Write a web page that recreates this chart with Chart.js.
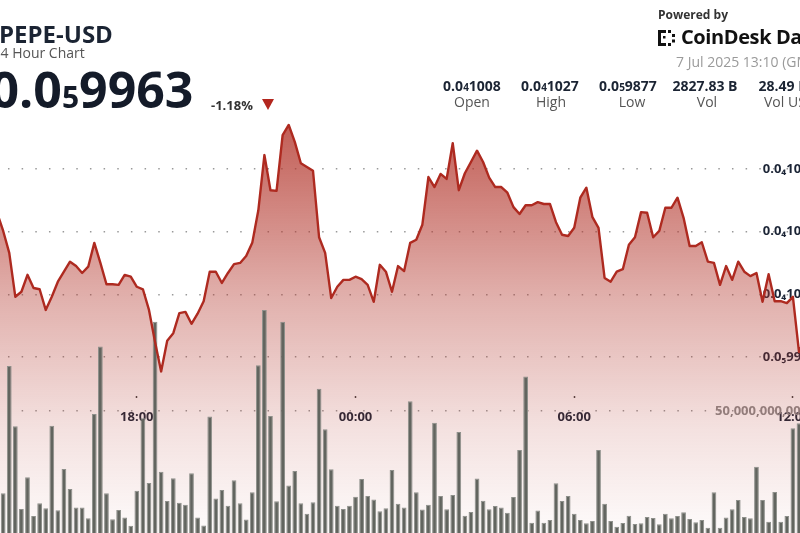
<!DOCTYPE html>
<html><head><meta charset="utf-8">
<script src="https://cdn.jsdelivr.net/npm/chart.js@4.4.1/dist/chart.umd.min.js"></script>
<style>
html,body{margin:0;padding:0;background:#fff;overflow:hidden;width:800px;height:533px;position:relative;font-family:"Open Sans","DejaVu Sans",sans-serif;}
.t{position:absolute;white-space:nowrap;line-height:1;}
.c{transform:translateX(-50%);}
#c{position:absolute;left:-60px;top:0;}
.val{font-size:14px;font-weight:700;color:#1b2433;top:78.6px;}
.lab{font-size:14px;color:#555;top:94.6px;}
.s{font-size:10px;}
</style></head><body>
<canvas id="c" width="900" height="533"></canvas>
<div class="t" style="left:-1px;top:21.7px;font-size:24px;font-weight:700;color:#1b2433;">PEPE-USD</div>
<div class="t" style="left:-7.5px;top:45.6px;font-size:14px;color:#555;">24 Hour Chart</div>
<div class="t" style="left:-9.5px;top:63.6px;font-size:50px;font-weight:700;color:#141b29;">0.0<span style="font-size:30px">5</span>9963</div>
<div class="t" style="left:211px;top:98.5px;font-size:13px;font-weight:700;color:#333;">-1.18%</div>
<div style="position:absolute;left:262px;top:98.5px;width:0;height:0;border-left:6.5px solid transparent;border-right:6.5px solid transparent;border-top:11px solid #b3261e;"></div>
<div class="t" style="left:658px;top:8.8px;font-size:12px;font-weight:700;color:#333;">Powered by</div>
<svg style="position:absolute;left:657px;top:28px" width="24" height="20" viewBox="0 0 24 20">
<g fill="#111"><rect x="1" y="2" width="3" height="16"/><rect x="1" y="2" width="8" height="3"/><rect x="1" y="15" width="8" height="3"/><rect x="11" y="2" width="3" height="3"/><rect x="11" y="15" width="3" height="3"/><rect x="6" y="8" width="2.5" height="2.5"/><rect x="15" y="6" width="3" height="3"/><rect x="15" y="11.5" width="3" height="3"/></g></svg>
<div class="t" style="left:681px;top:27.2px;font-size:20px;font-weight:700;color:#111;letter-spacing:-0.4px;">CoinDesk Data</div>
<div class="t" style="left:676px;top:54.6px;font-size:14px;color:#9a9a9a;">7 Jul 2025 13:10 (GMT)</div>
<div class="t c val" style="left:472px;">0.0<span class="s">4</span>1008</div>
<div class="t c lab" style="left:472px;">Open</div>
<div class="t c val" style="left:550px;">0.0<span class="s">4</span>1027</div>
<div class="t c lab" style="left:551px;">High</div>
<div class="t c val" style="left:628px;">0.0<span class="s">5</span>9877</div>
<div class="t c lab" style="left:632px;">Low</div>
<div class="t c val" style="left:705px;">2827.83 B</div>
<div class="t c lab" style="left:707px;">Vol</div>
<div class="t c val" style="left:785px;">28.49 M</div>
<div class="t c lab" style="left:790px;">Vol USD</div>
<script>
// 10-minute candles, minutes relative to 00:00 on 7 Jul 2025 (first = 13:20 on 6 Jul, last = 13:10)
const firstCandleMinute = -640;
const candleMinutes = [];
for (let i = 0; i < 144; i++) candleMinutes.push(firstCandleMinute + 10 * i);

// close price, in millionths of USD (10.08 => 0.00001008)
const priceE6 = [
10.080,10.100,10.090,10.120,10.110,10.130,
10.101,10.066,9.996,10.004,10.031,10.010,10.008,9.975,9.996,10.020,
10.036,10.052,10.045,10.034,10.044,10.082,10.050,10.016,10.016,10.015,
10.031,10.028,10.012,10.008,9.975,9.924,9.877,9.926,9.938,9.970,
9.972,9.953,9.969,9.989,10.036,10.036,10.018,10.034,10.048,10.050,
10.061,10.082,10.134,10.222,10.166,10.165,10.254,10.270,10.243,10.209,
10.203,10.197,10.091,10.066,9.994,10.012,10.023,10.023,10.028,10.024,
10.015,9.988,10.047,10.036,10.004,10.045,10.037,10.082,10.087,10.111,
10.187,10.171,10.192,10.184,10.241,10.166,10.193,10.211,10.229,10.211,
10.186,10.171,10.171,10.162,10.139,10.128,10.142,10.142,10.147,10.144,
10.144,10.115,10.095,10.093,10.106,10.154,10.170,10.123,10.106,10.026,
10.020,10.036,10.040,10.079,10.091,10.131,10.130,10.091,10.101,10.138,
10.138,10.154,10.122,10.077,10.077,10.083,10.052,10.050,10.015,10.045,
10.023,10.052,10.036,10.029,10.034,9.988,10.032,9.989,9.989,9.986,
9.996,9.908,9.930,9.948,9.941,9.958,9.950,9.963
];

// volume per candle, in billions of PEPE
const volumeB = [
18,25,12,30,15,19.4,
16.3,68.4,43.8,9.8,22.8,7.0,12.2,10.1,44.0,9.3,
26.2,18.0,10.5,10.5,6.0,48.8,76.4,16.3,5.6,9.4,
6.4,3.0,17.3,47.0,20.5,86.6,25.1,13.1,22.4,12.4,
11.6,24.5,6.4,3.1,47.7,14.1,17.6,11.2,21.6,12.2,
5.5,16.7,68.8,91.4,47.9,13.0,86.6,19.5,25.4,12.2,
7.9,12.6,59.1,42.5,26.1,11.2,9.8,11.2,14.9,22.1,
15.2,13.7,8.9,10.1,25.8,12.0,10.5,54.0,16.7,9.6,
11.6,45.2,15.2,9.7,15.6,41.4,7.1,8.6,22.3,13.2,
9.7,11.1,10.4,8.3,14.8,34.0,64.1,4.2,9.2,4.2,
5.3,20.4,13.1,15.2,7.9,5.3,4.0,4.9,34.0,12.0,
4.9,2.6,4.1,7.1,3.7,4.0,6.6,6.1,3.6,7.9,
6.0,7.0,8.5,5.7,4.4,5.3,2.2,16.7,2.2,6.4,
9.7,13.5,6.6,6.0,27.2,13.5,4.6,16.8,4.6,7.0,
42.9,45.0,20,15,25,12,18,10
];

const priceTicksE6 = [9.9, 10.0, 10.1, 10.2];
const volumeTicksB = [50];
const timeTicks = [-360, 0, 360, 720]; // 18:00, 00:00, 06:00, 12:00

const FONT = '"Open Sans", "DejaVu Sans", sans-serif';
const SUBS = '₀₁₂₃₄₅₆₇₈₉';
function fmtPrice(vE6) {
  const p = vE6 * 1e-6;
  const e = Math.floor(Math.log10(p) + 1e-9);
  const zeros = -e - 1;
  const digits = Math.round(p / Math.pow(10, e) * 1000);
  return '0.0' + SUBS[zeros] + digits;
}
function fmtTime(v) {
  const m = ((v % 1440) + 1440) % 1440;
  const h = Math.floor(m / 60), mm = m % 60;
  return String(h).padStart(2, '0') + ':' + String(mm).padStart(2, '0');
}
function fillGradient(context) {
  const chart = context.chart;
  const area = chart.chartArea;
  if (!area) return 'rgba(178,52,42,0.3)';
  const g = chart.ctx.createLinearGradient(0, area.top, 0, area.bottom);
  g.addColorStop(0, 'rgba(178,52,42,0.82)');
  g.addColorStop(0.45, 'rgba(178,52,42,0.38)');
  g.addColorStop(0.75, 'rgba(178,52,42,0.15)');
  g.addColorStop(1, 'rgba(178,52,42,0.02)');
  return g;
}
const zeroWidth = s => { s.width = 0; s.paddingTop = 0; s.paddingBottom = 0; };

new Chart(document.getElementById('c'), {
  type: 'bar',
  data: {
    labels: candleMinutes,
    datasets: [
      { type: 'line', data: priceE6, yAxisID: 'y', borderWidth: 0, pointRadius: 0,
        fill: 'start', backgroundColor: fillGradient, tension: 0, order: 3 },
      { type: 'bar', data: volumeB, yAxisID: 'yv', backgroundColor: '#62655f',
        borderColor: '#8e908b', borderWidth: 1, barPercentage: 0.92, categoryPercentage: 0.85, order: 2 },
      { type: 'line', data: priceE6, yAxisID: 'y', borderColor: '#ae2a20', borderWidth: 2.4,
        pointRadius: 0, fill: false, tension: 0, order: 1, borderJoinStyle: 'round' }
    ]
  },
  options: {
    responsive: false, animation: false,
    layout: { padding: { left: 23.7, right: 24, top: 112, bottom: 0 } },
    plugins: { legend: { display: false }, tooltip: { enabled: false } },
    scales: {
      x: {
        type: 'linear', min: -645, max: 758, offset: false, bounds: 'data',
        position: { yv: 56.15 },
        afterBuildTicks: s => { s.ticks = timeTicks.map(v => ({ value: v })); },
        grid: { drawOnChartArea: false, drawTicks: true, tickLength: 2, tickColor: '#444', tickWidth: 1.5, offset: false },
        border: { display: false },
        ticks: { padding: 12, maxRotation: 0, autoSkip: false, color: '#1c2536',
          font: { family: FONT, size: 13, weight: 'bold' }, callback: v => fmtTime(v) }
      },
      y: {
        type: 'linear', position: 'right', min: 9.6193, max: 10.2907, bounds: 'data',
        afterBuildTicks: s => { s.ticks = priceTicksE6.map(v => ({ value: v })); },
        afterFit: zeroWidth,
        grid: { color: '#999999', lineWidth: 1.5, drawTicks: false },
        border: { display: false, dash: [1.5, 12.16], dashOffset: -3.3 },
        ticks: { mirror: true, padding: 0, color: '#1c2536', autoSkip: false,
          font: { family: FONT, size: 13, weight: 'bold' }, callback: v => fmtPrice(v) }
      },
      yv: {
        type: 'linear', position: 'right', min: 0, max: 172.54, bounds: 'data',
        afterBuildTicks: s => { s.ticks = volumeTicksB.map(v => ({ value: v })); },
        afterFit: zeroWidth,
        grid: { color: '#999999', lineWidth: 1.5, drawTicks: false },
        border: { display: false, dash: [1.5, 12.16], dashOffset: -3.3 },
        ticks: { mirror: true, padding: -8, color: '#8c8c8c', autoSkip: false,
          font: { family: FONT, size: 13, weight: 'bold' },
          callback: v => Math.round(v * 1e9).toLocaleString('en-US') }
      }
    }
  }
});
</script>
</body></html>
